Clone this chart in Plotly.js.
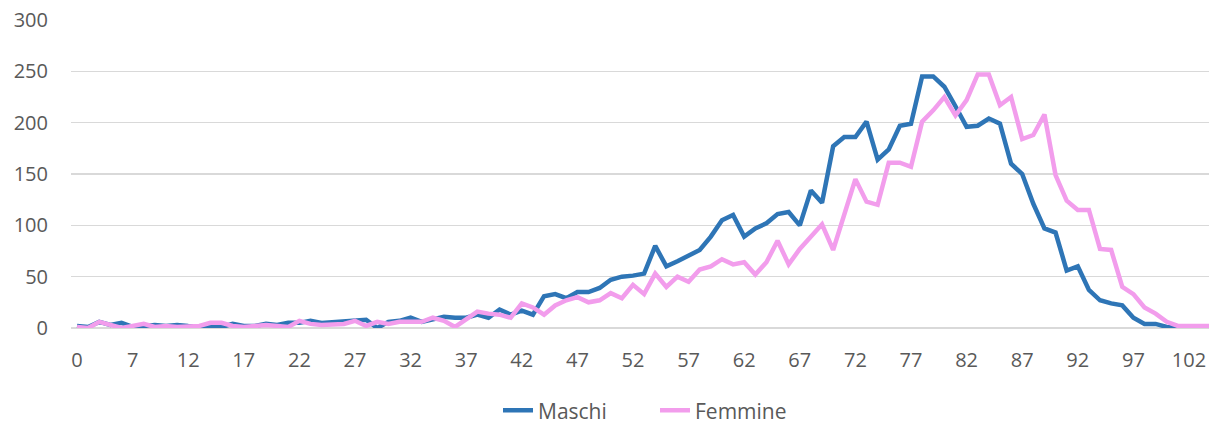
<!DOCTYPE html>
<html>
<head>
<meta charset="utf-8">
<script src="https://cdn.plot.ly/plotly-3.0.1.min.js"></script>
<style>
  html, body { margin: 0; padding: 0; background: #ffffff; }
  #chart { width: 1209px; height: 426px; }
</style>
</head>
<body>
<div id="chart"></div>
<script>
// Age categories (as they appear on the category axis)
const categories = [
  "0","3","4","5","6","7","8","9","10","11","12","13","14","15","16","17","18","19","20","21",
  "22","23","24","25","26","27","28","29","30","31","32","33","34","35","36","37","38","39","40","41",
  "42","43","44","45","46","47","48","49","50","51","52","53","54","55","56","57","58","59","60","61",
  "62","63","64","65","66","67","68","69","70","71","72","73","74","75","76","77","78","79","80","81",
  "82","83","84","85","86","87","88","89","90","91","92","93","94","95","96","97","98","99","100","101",
  "102","103","104"
];

const maschi = [
  2,1,6,3,5,1,2,3,2,3,2,2,1,1,4,2,2,4,3,5,
  5,7,5,6,6,7,8,0,6,7,10,6,8,11,10,10,13,10,18,13,
  17,13,31,33,29,35,35,39,47,50,51,53,80,60,65,71,76,89,105,110,
  89,97,102,111,113,100,134,122,177,186,186,201,164,174,197,199,245,245,235,216,
  196,197,204,199,160,150,121,97,93,56,60,37,27,24,22,10,4,4,1,0,
  0,0,0
];

const femmine = [
  1,0,6,3,0,2,4,1,2,1,1,2,5,5,2,1,2,3,2,1,
  7,4,3,4,4,7,2,6,4,6,6,6,10,7,1,9,16,14,13,10,
  24,20,13,22,27,30,25,27,34,29,42,33,53,40,50,45,57,60,67,62,
  64,52,64,85,62,77,89,101,76,111,145,123,120,161,161,157,201,212,225,207,
  222,247,247,217,225,184,188,208,149,124,115,115,77,76,40,33,20,14,6,2,
  2,2,2
];

const tickLabels = ["0","7","12","17","22","27","32","37","42","47","52","57","62","67","72","77","82","87","92","97","102"];

const seriesNames = ["Maschi", "Femmine"];
const seriesColors = ["#2E75B6", "#F29DEC"];

const traces = [
  {
    x: categories, y: maschi, type: "scatter", mode: "lines", name: seriesNames[0],
    line: { color: seriesColors[0], width: 4.5 }, hoverinfo: "x+y", legend: "legend"
  },
  {
    x: categories, y: femmine, type: "scatter", mode: "lines", name: seriesNames[1],
    line: { color: seriesColors[1], width: 4.5 }, hoverinfo: "x+y", legend: "legend2"
  }
];

const legendBase = {
  orientation: "h",
  xref: "container",
  xanchor: "left",
  yref: "container",
  y: 0.036, yanchor: "middle",
  font: { size: 21, color: "#595959" },
  bgcolor: "rgba(0,0,0,0)"
};

const layout = {
  width: 1209,
  height: 426,
  margin: { l: 71, r: 0, t: 20, b: 98, autoexpand: false },
  paper_bgcolor: "#ffffff",
  plot_bgcolor: "#ffffff",
  font: { family: "Open Sans, Liberation Sans, sans-serif", color: "#595959", size: 20 },
  showlegend: true,
  legend: Object.assign({}, legendBase, { x: 498 / 1209 }),
  legend2: Object.assign({}, legendBase, { x: 655 / 1209 }),
  xaxis: {
    type: "category",
    range: [-0.54, 101.8],
    tickmode: "array",
    tickvals: tickLabels,
    ticktext: tickLabels,
    showgrid: false,
    zeroline: false,
    showline: false,
    ticks: "",
    ticklabelstandoff: 18,
    tickfont: { size: 20, color: "#595959" },
    fixedrange: true
  },
  yaxis: {
    range: [0, 300],
    dtick: 50,
    tick0: 0,
    showgrid: true,
    gridcolor: "#d9d9d9",
    gridwidth: 1.5,
    zeroline: true,
    zerolinecolor: "#d9d9d9",
    zerolinewidth: 1.5,
    showline: false,
    ticks: "",
    ticklabelstandoff: 22,
    tickfont: { size: 20, color: "#595959" },
    fixedrange: true
  }
};

Plotly.newPlot("chart", traces, layout, { displayModeBar: false, staticPlot: true });
</script>
</body>
</html>
